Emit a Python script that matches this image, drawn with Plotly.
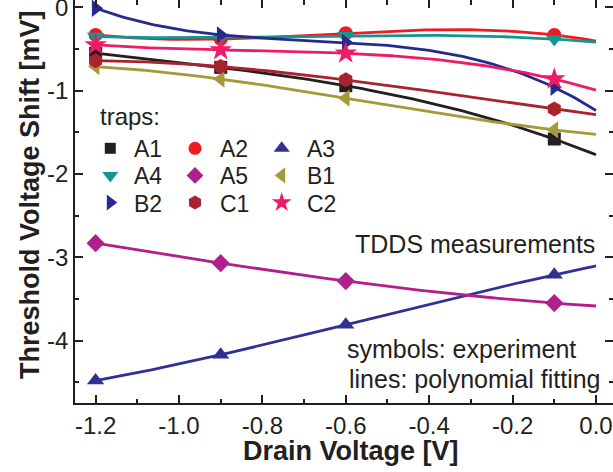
import numpy as np
import plotly.graph_objects as go

# Drain voltages at which every trap was characterised [V]
drain_v = [-1.2, -0.9, -0.6, -0.1]

# Measured threshold voltage shift of each trap [mV]
shift_A1 = [-0.55, -0.72, -0.94, -1.58]
shift_A2 = [-0.33, -0.38, -0.31, -0.33]
shift_A3 = [-4.48, -4.17, -3.81, -3.21]
shift_A4 = [-0.35, -0.36, -0.34, -0.38]
shift_A5 = [-2.83, -3.07, -3.285, -3.55]
shift_B1 = [-0.71, -0.86, -1.09, -1.47]
shift_B2 = [-0.01, -0.33, -0.42, -0.96]
shift_C1 = [-0.64, -0.71, -0.87, -1.22]
shift_C2 = [-0.45, -0.51, -0.55, -0.86]

trap_names = ["A1", "A2", "A3", "A4", "A5", "B1", "B2", "C1", "C2"]
trap_shifts = [shift_A1, shift_A2, shift_A3, shift_A4, shift_A5,
               shift_B1, shift_B2, shift_C1, shift_C2]

# Axis ticks
x_tick_vals = [-1.2, -1.0, -0.8, -0.6, -0.4, -0.2, 0.0]
x_tick_text = ["-1.2", "-1.0", "-0.8", "-0.6", "-0.4", "-0.2", "0.0"]
y_tick_vals = [0, -1, -2, -3, -4]
y_tick_text = ["0", "-1", "-2", "-3", "-4"]

# Marker colour / symbol / size per trap (plot size, key size)
STYLE = {
    "A1": ("#231f20", "square", 13, 11),
    "A2": ("#ed1c24", "circle", 14, 13),
    "A3": ("#2e3192", "triangle-up", 15, 14),
    "A4": ("#12968f", "triangle-down", 15, 14),
    "A5": ("#b01f8c", "diamond", 14, 13),
    "B1": ("#a39a3a", "triangle-left", 15, 14),
    "B2": ("#262a8c", "triangle-right", 15, 14),
    "C1": ("#a8232d", "hexagon", 15, 14),
    "C2": ("#ef1b68", "star", 17, 15),
}

FONT = "Liberation Sans, Arial, sans-serif"
INK = "#231f20"

W, H = 613, 472
L, R, T, B = 75, 0, 0, 69
PW, PH = W - L - R, H - T - B

X_RANGE = [-1.2494, 0.0408]
Y_RANGE = [-4.749, 0.0888]


def px(x, y):
    """Pixel position -> paper fraction of the plot area."""
    return (x - L) / PW, (H - B - y) / PH


fig = go.Figure()

# Cubic polynomial fit through each trap's points, drawn up to 0 V
v_fit = np.linspace(-1.2, 0.0, 121)
for name, shift in zip(trap_names, trap_shifts):
    color, symbol, size, _ = STYLE[name]
    coeffs = np.polyfit(drain_v, shift, 3)
    fig.add_trace(go.Scatter(
        x=v_fit, y=np.polyval(coeffs, v_fit), mode="lines",
        line=dict(color=color, width=2.8), showlegend=False, hoverinfo="skip"))
    fig.add_trace(go.Scatter(
        x=drain_v, y=shift, mode="markers", name=name,
        marker=dict(color=color, symbol=symbol, size=size, opacity=1,
                    line=dict(width=0)),
        showlegend=False))

# Empty trace that carries the mirrored top / right tick axes
fig.add_trace(go.Scatter(x=[], y=[], xaxis="x2", yaxis="y2",
                         showlegend=False, hoverinfo="skip"))

# Hand-built "traps:" key: 3 columns x 3 rows
col_marker_x = [110.3, 195.0, 281.7]
col_text_x = [131.7, 218.3, 305.0]
row_y = [148.3, 175.4, 202.5]
key_x, key_y, key_c, key_s, key_z = [], [], [], [], []
for i, name in enumerate(trap_names):
    r, c = divmod(i, 3)
    color, symbol, _, ksize = STYLE[name]
    kx, ky = px(col_marker_x[c], row_y[r])
    key_x.append(kx)
    key_y.append(ky)
    key_c.append(color)
    key_s.append(symbol)
    key_z.append(ksize)
    tx, ty = px(col_text_x[c], row_y[r] + 1)
    fig.add_annotation(x=tx, y=ty, xref="paper", yref="paper", text=name,
                       showarrow=False, xanchor="left", yanchor="middle",
                       font=dict(family=FONT, size=23, color=INK))
fig.add_trace(go.Scatter(
    x=key_x, y=key_y, xaxis="x3", yaxis="y3", mode="markers",
    marker=dict(color=key_c, symbol=key_s, size=key_z, opacity=1,
                line=dict(width=0)),
    showlegend=False, hoverinfo="skip"))


def text(x, y, s, size, anchor="left", bold=False, angle=0):
    ax, ay = px(x, y)
    fig.add_annotation(x=ax, y=ay, xref="paper", yref="paper",
                       text=f"<b>{s}</b>" if bold else s, showarrow=False,
                       xanchor=anchor, yanchor="middle", textangle=angle,
                       font=dict(family=FONT, size=size, color=INK))


text(98.3, 117, "traps:", 24)
text(596.7, 244, "TDDS measurements", 25, anchor="right")
text(345, 349, "symbols: experiment", 25)
text(346.7, 379, "lines: polynomial fitting", 25)
text(351, 451, "Drain Voltage [V]", 27, anchor="center", bold=True)
text(30, 195, "Threshold Voltage Shift [mV]", 27, anchor="center", bold=True, angle=-90)

axis_common = dict(
    ticks="inside", ticklen=8, tickwidth=1.5, tickcolor=INK,
    showgrid=False, zeroline=False, fixedrange=True,
    ticklabeloverflow="allow",
    tickfont=dict(family=FONT, size=24, color=INK),
)

fig.update_layout(
    width=W, height=H,
    margin=dict(l=L, r=R, t=T, b=B, autoexpand=False),
    paper_bgcolor="white", plot_bgcolor="white",
    showlegend=False,
    xaxis=dict(range=X_RANGE, tickvals=x_tick_vals, ticktext=x_tick_text,
               showline=True, linecolor=INK, linewidth=1.5,
               minor=dict(ticks="inside", ticklen=4.5, tickwidth=1.5,
                          tickcolor=INK, dtick=0.1, tick0=0),
               **axis_common),
    yaxis=dict(range=Y_RANGE, tickvals=y_tick_vals, ticktext=y_tick_text,
               showline=True, linecolor=INK, linewidth=1.5,
               minor=dict(ticks="inside", ticklen=4.5, tickwidth=1.5,
                          tickcolor=INK, dtick=0.5, tick0=0),
               **axis_common),
    xaxis2=dict(range=X_RANGE, overlaying="x", side="top", anchor="y2",
                tickvals=x_tick_vals, showticklabels=False, showline=False,
                minor=dict(ticks="inside", ticklen=4.5, tickwidth=1.5,
                           tickcolor=INK, dtick=0.1, tick0=0),
                **axis_common),
    yaxis2=dict(range=Y_RANGE, overlaying="y", side="right", anchor="x2",
                tickvals=y_tick_vals, showticklabels=False, showline=False,
                minor=dict(ticks="inside", ticklen=4.5, tickwidth=1.5,
                           tickcolor=INK, dtick=0.5, tick0=0),
                **axis_common),
    xaxis3=dict(range=[0, 1], overlaying="x", visible=False, fixedrange=True),
    yaxis3=dict(range=[0, 1], overlaying="y", visible=False, fixedrange=True,
                anchor="x3"),
)

fig.write_html("out.html")
